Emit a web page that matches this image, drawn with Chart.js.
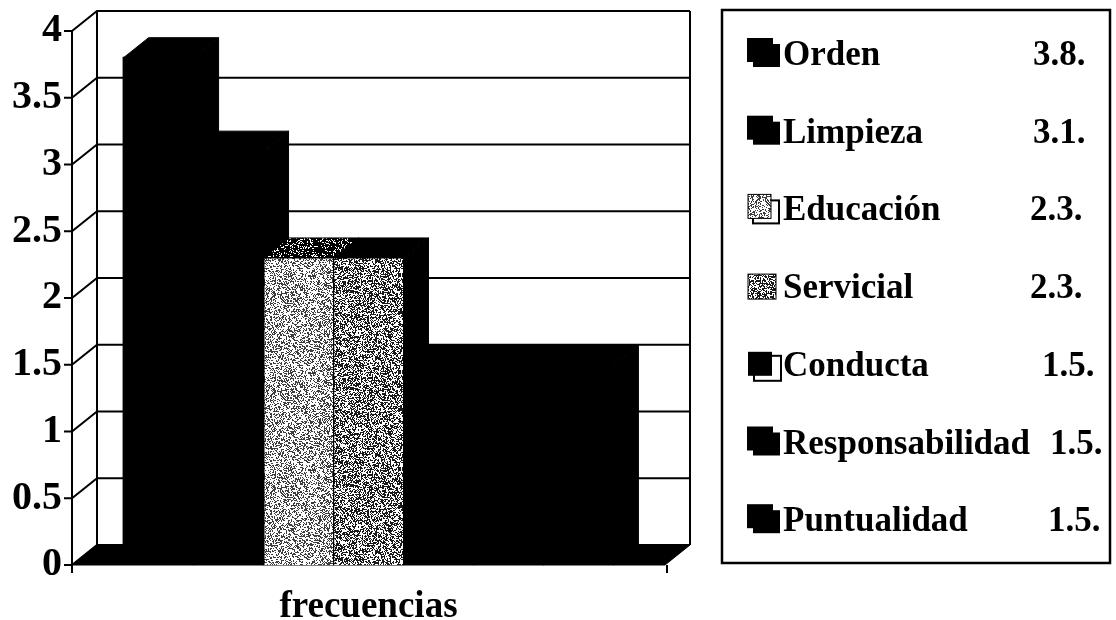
<!DOCTYPE html>
<html>
<head>
<meta charset="utf-8">
<script src="https://cdn.jsdelivr.net/npm/chart.js@4.4.1/dist/chart.umd.min.js"></script>
<style>
body { margin: 0; background: #fff; }
canvas { display: block; }
</style>
</head>
<body>
<canvas id="myChart" width="1116" height="620"></canvas>
<script>
var categories = ['frecuencias'];
var seriesNames = ['Orden', 'Limpieza', 'Educación', 'Servicial', 'Conducta', 'Responsabilidad', 'Puntualidad'];
var seriesValues = [3.8, 3.1, 2.3, 2.3, 1.5, 1.5, 1.5];
var valueLabels = ['3.8.', '3.1.', '2.3.', '2.3.', '1.5.', '1.5.', '1.5.'];
var yTicks = [0, 0.5, 1, 1.5, 2, 2.5, 3, 3.5, 4];

// depth of the fake 3d box
var DX = 25, DY = -20;

// speckled fill like the scanned print
function stipple(density, dark) {
    var c = document.createElement('canvas');
    c.width = 97; c.height = 97;
    var g = c.getContext('2d');
    var img = g.createImageData(97, 97);
    for (var y = 0; y < 97; y++) {
        for (var x = 0; x < 97; x++) {
            var h = Math.imul(x, 374761393) + Math.imul(y, 668265263);
            h = Math.imul(h ^ (h >>> 13), 1274126177);
            h ^= h >>> 16;
            var r = (h >>> 0) % 1000 / 1000;
            var v = r < density ? dark : 255;
            var k = (y * 97 + x) * 4;
            img.data[k] = v; img.data[k + 1] = v; img.data[k + 2] = v; img.data[k + 3] = 255;
        }
    }
    g.putImageData(img, 0, 0);
    return g.createPattern(c, 'repeat');
}

var lightDots = stipple(0.4, 60);
var darkDots = stipple(0.52, 25);
var topDots = stipple(0.8, 0);

var frontFills = ['#000', '#000', lightDots, darkDots, '#000', '#000', '#000'];
var topFills = ['#000', '#000', topDots, '#000', '#000', '#000', '#000'];
var markerKinds = ['double', 'double', 'outlined', 'single', 'outlinedBlack', 'double', 'double'];
var valueX = [1033, 1033, 1030, 1030, 1042, 1050, 1048];

var serif = '"Liberation Serif", "Times New Roman", serif';

function face(ctx, pts, fill) {
    ctx.fillStyle = fill;
    ctx.beginPath();
    ctx.moveTo(pts[0][0], pts[0][1]);
    for (var k = 1; k < pts.length; k++) ctx.lineTo(pts[k][0], pts[k][1]);
    ctx.closePath();
    ctx.fill();
    ctx.stroke();
}

var box3d = {
    id: 'box3d',
    beforeDatasetsDraw: function (chart) {
        var ctx = chart.ctx, a = chart.chartArea, ys = chart.scales.y;
        ctx.save();
        ctx.strokeStyle = '#000';
        ctx.lineWidth = 1;
        face(ctx, [[a.left, a.bottom], [a.right, a.bottom], [a.right + DX, a.bottom + DY], [a.left + DX, a.bottom + DY]], '#000');

        ctx.lineWidth = 2;
        ys.ticks.forEach(function (t) {
            var py = ys.getPixelForValue(t.value);
            ctx.beginPath();
            ctx.moveTo(a.left - 8, py);
            ctx.lineTo(a.left, py);
            ctx.lineTo(a.left + DX, py + DY);
            ctx.lineTo(a.right + DX, py + DY);
            ctx.stroke();
        });
        ctx.beginPath();
        ctx.moveTo(a.left + DX, a.top + DY);
        ctx.lineTo(a.left + DX, a.bottom + DY);
        ctx.moveTo(a.right + DX, a.top + DY);
        ctx.lineTo(a.right + DX, a.bottom + DY);
        ctx.moveTo(a.left, a.top);
        ctx.lineTo(a.left, a.bottom + 8);
        ctx.moveTo(a.right + 2, a.bottom);
        ctx.lineTo(a.right + 2, a.bottom + 8);
        ctx.stroke();

        // side and top faces, left to right, before the fronts
        ctx.lineWidth = 1;
        chart.data.datasets.forEach(function (ds, i) {
            var el = chart.getDatasetMeta(i).data[0];
            var p = el.getProps(['x', 'y', 'base', 'width'], true);
            var xl = p.x - p.width / 2, xr = p.x + p.width / 2;
            face(ctx, [[xr, p.y], [xr + DX, p.y + DY], [xr + DX, p.base + DY], [xr, p.base]], '#000');
            face(ctx, [[xl, p.y], [xr, p.y], [xr + DX, p.y + DY], [xl + DX, p.y + DY]], topFills[i]);
        });
        ctx.restore();
    },
    afterDraw: function (chart) {
        var ctx = chart.ctx, ys = chart.scales.y, xs = chart.scales.x, a = chart.chartArea;
        ctx.save();
        ctx.fillStyle = '#000';
        // y tick labels
        ctx.font = 'bold 40px ' + serif;
        ctx.textAlign = 'right';
        ctx.textBaseline = 'middle';
        ys.ticks.forEach(function (t) {
            ctx.fillText(String(t.value), a.left - 10, ys.getPixelForValue(t.value));
        });
        // category label
        ctx.font = 'bold 37px ' + serif;
        ctx.textAlign = 'center';
        ctx.textBaseline = 'alphabetic';
        ctx.fillText(categories[0], xs.getPixelForValue(0), 617);

        // legend box
        ctx.strokeStyle = '#000';
        ctx.lineWidth = 2.5;
        ctx.strokeRect(722, 10, 388, 553);
        ctx.font = 'bold 35px ' + serif;
        ctx.textAlign = 'left';
        seriesNames.forEach(function (name, i) {
            var b = 65 + i * 77.7;
            var kind = markerKinds[i];
            ctx.lineWidth = 2;
            if (kind === 'double') {
                ctx.fillStyle = '#000';
                ctx.fillRect(747, b - 27, 26, 24);
                ctx.fillRect(753, b - 21, 27, 23);
            } else if (kind === 'outlined') {
                ctx.fillStyle = '#fff';
                ctx.fillRect(753, b - 20, 26, 23);
                ctx.strokeRect(753, b - 20, 26, 23);
                ctx.fillStyle = frontFills[i];
                ctx.fillRect(748, b - 26, 23, 24);
                ctx.lineWidth = 1;
                ctx.strokeRect(748, b - 26, 23, 24);
            } else if (kind === 'outlinedBlack') {
                ctx.fillStyle = '#fff';
                ctx.fillRect(754, b - 20, 27, 25);
                ctx.strokeRect(754, b - 20, 27, 25);
                ctx.fillStyle = '#000';
                ctx.fillRect(748, b - 24, 24, 24);
            } else {
                ctx.fillStyle = frontFills[i];
                ctx.fillRect(748, b - 24, 28, 25);
                ctx.lineWidth = 1;
                ctx.strokeRect(748, b - 24, 28, 25);
            }
            ctx.fillStyle = '#000';
            ctx.fillText(name, 783, b);
            ctx.fillText(valueLabels[i], valueX[i], b);
        });
        ctx.restore();
    }
};

var datasets = seriesNames.map(function (name, i) {
    var solid = frontFills[i] === '#000';
    return {
        label: name,
        data: [seriesValues[i]],
        backgroundColor: frontFills[i],
        borderColor: '#000',
        borderWidth: solid ? 0 : 1.5,
        inflateAmount: 1
    };
});

var ctx = document.getElementById('myChart').getContext('2d');
var myChart = new Chart(ctx, {
    type: 'bar',
    data: {
        labels: categories,
        datasets: datasets
    },
    options: {
        responsive: false,
        animation: false,
        devicePixelRatio: 1,
        categoryPercentage: 0.826,
        barPercentage: 1,
        layout: {
            padding: { left: 72, right: 451, top: 31, bottom: 55 }
        },
        scales: {
            x: { display: false },
            y: {
                display: false,
                min: 0,
                max: 4,
                afterBuildTicks: function (scale) {
                    scale.ticks = yTicks.map(function (v) { return { value: v }; });
                }
            }
        },
        plugins: {
            legend: { display: false },
            tooltip: { enabled: false }
        }
    },
    plugins: [box3d]
});
</script>
</body>
</html>
